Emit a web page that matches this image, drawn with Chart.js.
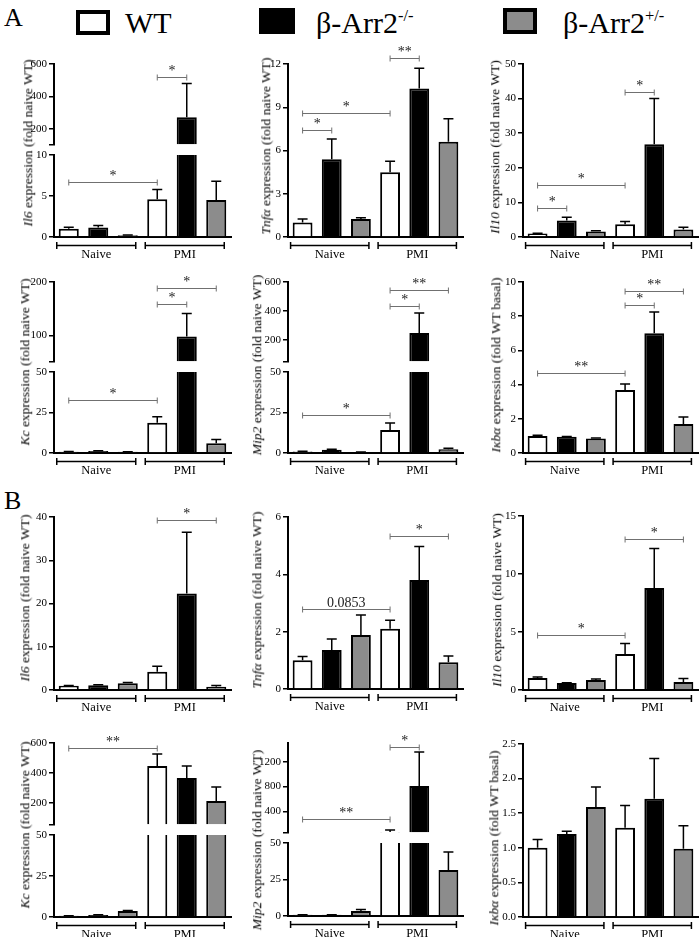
<!DOCTYPE html>
<html><head><meta charset="utf-8">
<script src="https://cdn.jsdelivr.net/npm/chart.js@4.4.0/dist/chart.umd.min.js"></script>
<style>
html,body{margin:0;padding:0;background:#fff;}
body{width:700px;height:937px;position:relative;overflow:hidden;font-family:"Liberation Serif","DejaVu Serif",serif;color:#000;}
canvas{position:absolute;}
.yt{position:absolute;white-space:nowrap;font-size:13.5px;line-height:1;color:#000;font-family:"Liberation Serif",serif;transform:translate(-50%,-50%) rotate(-90deg);}
.lab{position:absolute;line-height:1;white-space:nowrap;}
.box{position:absolute;box-sizing:border-box;}
sup{font-size:0.55em;vertical-align:0;position:relative;top:-0.75em;}
</style></head><body>
<div class="lab" style="left:4px;top:5px;font-size:26px;">A</div>
<div class="box" style="left:76px;top:10px;width:34px;height:25px;border:4px solid #000;background:#fff;"></div>
<div class="lab" style="left:125px;top:8px;font-size:30px;">WT</div>
<div class="box" style="left:259px;top:8px;width:36px;height:26px;background:#000;"></div>
<div class="lab" style="left:316px;top:8px;font-size:30px;">β-Arr2<sup>-/-</sup></div>
<div class="box" style="left:503px;top:8px;width:34px;height:26px;border:4px solid #000;background:#8c8c8c;"></div>
<div class="lab" style="left:563px;top:8px;font-size:30px;">β-Arr2<sup>+/-</sup></div>
<div class="lab" style="left:4px;top:488px;font-size:26px;">B</div>
<script>
// ---------- data ----------
const barLabels = ['Naive WT','Naive β-Arr2-/-','Naive β-Arr2+/-','PMI WT','PMI β-Arr2-/-','PMI β-Arr2+/-'];
const groupNames = ['Naive','PMI'];

// Panel A
const aIl6Mean = [1.0, 1.15, 0.2, 4.6, 272, 4.5];
const aIl6Sem  = [0.2, 0.25, 0.05, 1.2, 208, 2.3];
const aIl6Sig  = [[0,3,6.7,'*'],[3,4,520,'*']];
const aIl6TicksHigh = [200,400,600];
const aIl6TicksLow  = [0,5,10];

const aTnfMean = [1.0, 5.4, 1.25, 4.5, 10.3, 6.6];
const aTnfSem  = [0.25, 1.4, 0.08, 0.75, 1.4, 1.6];
const aTnfSig  = [[0,1,7.4,'*'],[0,3,8.6,'*'],[3,4,12.4,'**']];
const aTnfTicks = [0,3,6,9,12];

const aIl10Mean = [1.0, 4.8, 1.6, 3.7, 26.8, 2.2];
const aIl10Sem  = [0.1, 0.9, 0.2, 0.8, 13.2, 0.6];
const aIl10Sig  = [[0,1,8.4,'*'],[0,3,15,'*'],[3,4,42,'*']];
const aIl10Ticks = [0,10,20,30,40,50];

const aKcMean = [0.8, 1.3, 0.7, 18.7, 98, 6.0];
const aKcSem  = [0.1, 0.15, 0.1, 3.7, 43, 2.4];
const aKcSig  = [[0,3,33,'*'],[3,4,158,'*'],[3,5,188,'*']];
const aKcTicksHigh = [100,200];
const aKcTicksLow  = [0,25,50];

const aMip2Mean = [1.0, 2.0, 0.5, 14.2, 249, 2.3];
const aMip2Sem  = [0.15, 0.3, 0.05, 4.3, 138, 0.6];
const aMip2Sig  = [[0,3,23.5,'*'],[3,4,432,'*'],[3,5,545,'**']];
const aMip2TicksHigh = [200,400,600];
const aMip2TicksLow  = [0,25,50];

const aIkbaMean = [1.0, 0.95, 0.85, 3.68, 7.0, 1.7];
const aIkbaSem  = [0.04, 0.02, 0.03, 0.35, 1.25, 0.4];
const aIkbaSig  = [[0,3,4.7,'**'],[3,4,8.65,'*'],[3,5,9.5,'**']];
const aIkbaTicks = [0,2,4,6,8,10];

// Panel B
const bIl6Mean = [1.0, 1.1, 1.55, 4.2, 22.3, 0.75];
const bIl6Sem  = [0.05, 0.1, 0.2, 1.3, 14.2, 0.3];
const bIl6Sig  = [[3,5,39.4,'*']];
const bIl6Ticks = [0,10,20,30,40];

const bTnfMean = [1.0, 1.36, 1.88, 2.1, 3.8, 0.93];
const bTnfSem  = [0.13, 0.38, 0.7, 0.3, 1.17, 0.22];
const bTnfSig  = [[0,3,2.8,'0.0853'],[3,5,5.35,'*']];
const bTnfTicks = [0,2,4,6];

const bIl10Mean = [1.04, 0.6, 0.86, 3.1, 8.8, 0.7];
const bIl10Sem  = [0.08, 0.03, 0.09, 0.9, 3.4, 0.3];
const bIl10Sig  = [[0,3,4.7,'*'],[3,5,13.0,'*']];
const bIl10Ticks = [0,5,10,15];

const bKcMean = [0.7, 1.2, 3.6, 446, 365, 211];
const bKcSem  = [0.05, 0.1, 0.4, 80, 81, 94];
const bKcSig  = [[0,3,566,'**']];
const bKcTicksHigh = [200,400,600];
const bKcTicksLow  = [0,25,50];

const bMip2Mean = [0.8, 0.8, 3.4, 68, 807, 31.5];
const bMip2Sem  = [0.05, 0.05, 1.1, 30, 547, 12.3];
const bMip2Sig  = [[0,3,275,'**'],[3,4,1435,'*']];
const bMip2TicksHigh = [400,800,1200];
const bMip2TicksLow  = [0,25,50];

const bIkbaMean = [1.0, 1.2, 1.59, 1.29, 1.71, 0.985];
const bIkbaSem  = [0.12, 0.04, 0.29, 0.32, 0.58, 0.335];
const bIkbaSig  = [];
const bIkbaTicks = [0,0.5,1,1.5,2,2.5];

const panels = [
 {id:'aIl6', mean:aIl6Mean, sem:aIl6Sem, sig:aIl6Sig, title:'<i>Il6</i> expression (fold naive WT)',
  segs:[{range:[100,600], ticks:aIl6TicksHigh},{range:[0,10], ticks:aIl6TicksLow}]},
 {id:'aTnf', mean:aTnfMean, sem:aTnfSem, sig:aTnfSig, title:'<i>Tnfα</i> expression (fold naive WT)',
  segs:[{range:[0,12], ticks:aTnfTicks}]},
 {id:'aIl10', mean:aIl10Mean, sem:aIl10Sem, sig:aIl10Sig, title:'<i>Il10</i> expression (fold naive WT)',
  segs:[{range:[0,50], ticks:aIl10Ticks}]},
 {id:'aKc', mean:aKcMean, sem:aKcSem, sig:aKcSig, title:'<i>Kc</i> expression (fold naive WT)',
  segs:[{range:[50,200], ticks:aKcTicksHigh},{range:[0,50], ticks:aKcTicksLow}]},
 {id:'aMip2', mean:aMip2Mean, sem:aMip2Sem, sig:aMip2Sig, title:'<i>Mip2</i> expression (fold naive WT)',
  segs:[{range:[50,600], ticks:aMip2TicksHigh},{range:[0,50], ticks:aMip2TicksLow}]},
 {id:'aIkba', mean:aIkbaMean, sem:aIkbaSem, sig:aIkbaSig, title:'<i>Iκbα</i> expression (fold WT basal)',
  segs:[{range:[0,10], ticks:aIkbaTicks}]},
 {id:'bIl6', mean:bIl6Mean, sem:bIl6Sem, sig:bIl6Sig, title:'<i>Il6</i> expression (fold naive WT)',
  segs:[{range:[0,40], ticks:bIl6Ticks}]},
 {id:'bTnf', mean:bTnfMean, sem:bTnfSem, sig:bTnfSig, title:'<i>Tnfα</i> expression (fold naive WT)',
  segs:[{range:[0,6], ticks:bTnfTicks}]},
 {id:'bIl10', mean:bIl10Mean, sem:bIl10Sem, sig:bIl10Sig, title:'<i>Il10</i> expression (fold naive WT)',
  segs:[{range:[0,15], ticks:bIl10Ticks}]},
 {id:'bKc', mean:bKcMean, sem:bKcSem, sig:bKcSig, title:'<i>Kc</i> expression (fold naive WT)',
  segs:[{range:[50,600], ticks:bKcTicksHigh},{range:[0,50], ticks:bKcTicksLow}]},
 {id:'bMip2', mean:bMip2Mean, sem:bMip2Sem, sig:bMip2Sig, title:'<i>Mip2</i> expression (fold naive WT)',
  segs:[{range:[50,1500], ticks:bMip2TicksHigh},{range:[0,50], ticks:bMip2TicksLow}]},
 {id:'bIkba', mean:bIkbaMean, sem:bIkbaSem, sig:bIkbaSig, title:'<i>Iκbα</i> expression (fold WT basal)',
  segs:[{range:[0,2.5], ticks:bIkbaTicks}], dec:1},
];

// ---------- layout (pixel geometry, styles) ----------
const geo = {
 aIl6:{x0:54,x1:231,px:[[64,145],[155,237]],tx:28,ty:143},
 aTnf:{x0:288,x1:463,px:[[64,237]],tx:266,ty:146},
 aIl10:{x0:523,x1:698,px:[[64,237]],tx:495,ty:147},
 aKc:{x0:54,x1:231,px:[[282,362],[372,453]],tx:25,ty:362},
 aMip2:{x0:288,x1:463,px:[[282,362],[372,453]],tx:257,ty:365},
 aIkba:{x0:523,x1:698,px:[[282,453]],tx:496,ty:365},
 bIl6:{x0:54,x1:231,px:[[517,690]],tx:25,ty:598},
 bTnf:{x0:288,x1:463,px:[[517,689]],tx:257,ty:600},
 bIl10:{x0:523,x1:698,px:[[516,690]],tx:497,ty:600},
 bKc:{x0:54,x1:231,px:[[743,825],[835,917]],tx:25,ty:825},
 bMip2:{x0:288,x1:463,px:[[743,833],[843,916]],tx:257,ty:840},
 bIkba:{x0:523,x1:698,px:[[744,917]],tx:494,ty:838},
};
const FILLS = ['#ffffff','#000000','#8c8c8c','#ffffff','#000000','#8c8c8c'];
const YW = 44, PT = 24, PR = 8, PB = 10, XH = 30;
const FONT = '"Liberation Serif","DejaVu Serif",serif';
Chart.defaults.font.family = FONT;
Chart.defaults.color = '#000';

const extras = {
  id:'extras',
  afterDatasetsDraw(chart, args, o){
    const {ctx, chartArea:ca, scales:{x, y}} = chart;
    const lo = o.range[0], hi = o.range[1];
    ctx.save();
    // error bars (upper)
    ctx.strokeStyle = '#000'; ctx.lineWidth = 1.5;
    o.mean.forEach((m, i) => {
      const inSeg = o.isTop ? m >= lo : (m >= lo && m <= hi);
      if (!inSeg) return;
      const xc = x.getPixelForValue(i);
      const yt = y.getPixelForValue(m), ye = y.getPixelForValue(m + o.sem[i]);
      ctx.beginPath();
      ctx.moveTo(xc, yt); ctx.lineTo(xc, ye);
      ctx.moveTo(xc - 5, ye); ctx.lineTo(xc + 5, ye);
      ctx.stroke();
    });
    // significance brackets
    o.sig.forEach(([i, j, v, lab]) => {
      const inSeg = o.isTop ? v >= lo : (v >= lo && v <= hi);
      if (!inSeg) return;
      const xa = x.getPixelForValue(i), xb = x.getPixelForValue(j);
      const yy = Math.round(y.getPixelForValue(v)) + 0.5;
      ctx.strokeStyle = '#707070'; ctx.lineWidth = 1;
      ctx.beginPath();
      ctx.moveTo(xa, yy); ctx.lineTo(xb, yy);
      ctx.moveTo(xa, yy - 3); ctx.lineTo(xa, yy + 3);
      ctx.moveTo(xb, yy - 3); ctx.lineTo(xb, yy + 3);
      ctx.stroke();
      ctx.fillStyle = '#222';
      ctx.font = '14px ' + FONT;
      ctx.textAlign = 'center'; ctx.textBaseline = 'alphabetic';
      ctx.fillText(lab, (xa + xb) / 2, yy - 3);
    });
    // group brackets
    if (o.isBottom) {
      const yb = ca.bottom + 8.5;
      ctx.strokeStyle = '#000'; ctx.lineWidth = 1.5;
      ctx.fillStyle = '#000'; ctx.font = '12.5px ' + FONT;
      ctx.textAlign = 'center'; ctx.textBaseline = 'alphabetic';
      groupNames.forEach((g, k) => {
        const xa = x.getPixelForValue(3 * k) - 12, xb = x.getPixelForValue(3 * k + 2) + 8;
        ctx.beginPath();
        ctx.moveTo(xa, yb); ctx.lineTo(xb, yb);
        ctx.moveTo(xa, yb - 3.5); ctx.lineTo(xa, yb + 3.5);
        ctx.moveTo(xb, yb - 3.5); ctx.lineTo(xb, yb + 3.5);
        ctx.stroke();
        ctx.fillText(g, (xa + xb) / 2, yb + 12.5);
      });
    }
    ctx.restore();
  }
};

function makeSeg(p, g, s, k) {
  const nSeg = p.segs.length;
  const isTop = k === 0, isBottom = k === nSeg - 1;
  const [top, bottom] = g.px[k];
  const [lo, hi] = s.range;
  const left = g.x0 - YW;
  const w = g.x1 - left + PR;
  const h = PT + (bottom - top) + (isBottom ? XH : PB);
  const cv = document.createElement('canvas');
  cv.width = w; cv.height = h;
  cv.style.left = left + 'px'; cv.style.top = (top - PT) + 'px';
  cv.style.width = w + 'px'; cv.style.height = h + 'px';
  document.body.appendChild(cv);
  const tickVals = s.ticks.slice();
  if (nSeg > 1 && !isBottom && !tickVals.includes(lo)) tickVals.unshift(lo);
  const dec = p.dec || 0;
  const data = p.mean.map(v => (isTop ? v > lo : true) ? v : null);
  new Chart(cv, {
    type:'bar',
    data:{labels:barLabels, datasets:[{
      data, backgroundColor:FILLS, borderColor:'#000', borderWidth:2, borderSkipped:'start',
      barPercentage:0.68, categoryPercentage:1, base: lo,
      clip:{left:false, right:false, top:0, bottom:0}
    }]},
    options:{
      responsive:false, animation:false, events:[], devicePixelRatio:1,
      layout:{padding:{top:PT, right:PR, left:0, bottom:isBottom ? 0 : PB}},
      plugins:{legend:{display:false}, tooltip:{enabled:false},
        extras:{mean:p.mean, sem:p.sem, sig:p.sig, range:s.range, isTop, isBottom}},
      scales:{
        x:{display:isBottom, grid:{display:false}, ticks:{display:false},
           border:{display:true, color:'#000', width:2},
           afterFit:sc => { if (isBottom) sc.height = XH; }},
        y:{min:lo, max:hi,
           afterFit:sc => { sc.width = YW; },
           afterBuildTicks:sc => { sc.ticks = tickVals.map(v => ({value:v})); },
           ticks:{autoSkip:false, padding:2, color:'#000', font:{size:11, family:FONT},
             callback:v => s.ticks.includes(v) ? v.toFixed(dec) : ''},
           grid:{drawOnChartArea:false, drawTicks:true, tickLength:5, color:'#000', lineWidth:1.5},
           border:{display:true, color:'#000', width:2}}
      }
    },
    plugins:[extras]
  });
}

panels.forEach(p => {
  const g = geo[p.id];
  p.segs.forEach((s, k) => makeSeg(p, g, s, k));
  const t = document.createElement('div');
  t.className = 'yt';
  t.style.left = g.tx + 'px'; t.style.top = g.ty + 'px';
  t.innerHTML = p.title;
  document.body.appendChild(t);
});
</script>
</body></html>
